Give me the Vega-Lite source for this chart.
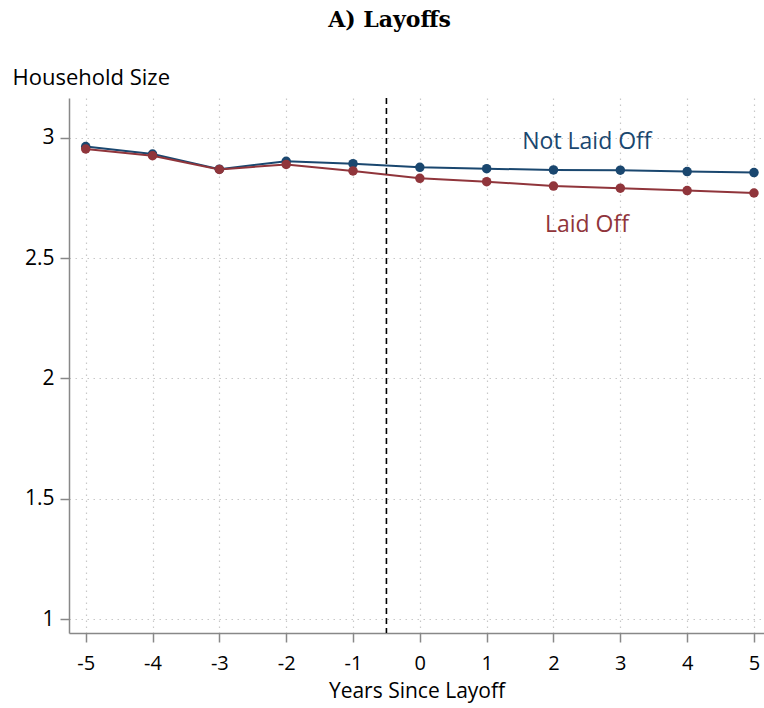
{
  "$schema": "https://vega.github.io/schema/vega-lite/v6.json",
  "width": 695,
  "height": 535,
  "autosize": {"type": "none"},
  "padding": {"left": 69, "top": 98, "right": 0, "bottom": 75},
  "background": "white",
  "config": {"view": {"stroke": null}, "font": "Open Sans"},
  "title": {"text": "A) Layoffs", "font": "DejaVu Serif", "fontSize": 22, "fontWeight": "bold", "anchor": "middle", "frame": "group", "dx": -27, "offset": 34, "color": "black"},
  "datasets": {
    "series": [
      {"year": -5, "value": 2.964, "group": "Not Laid Off"},
      {"year": -4, "value": 2.933, "group": "Not Laid Off"},
      {"year": -3, "value": 2.870, "group": "Not Laid Off"},
      {"year": -2, "value": 2.903, "group": "Not Laid Off"},
      {"year": -1, "value": 2.893, "group": "Not Laid Off"},
      {"year": 0, "value": 2.878, "group": "Not Laid Off"},
      {"year": 1, "value": 2.872, "group": "Not Laid Off"},
      {"year": 2, "value": 2.867, "group": "Not Laid Off"},
      {"year": 3, "value": 2.866, "group": "Not Laid Off"},
      {"year": 4, "value": 2.860, "group": "Not Laid Off"},
      {"year": 5, "value": 2.856, "group": "Not Laid Off"},
      {"year": -5, "value": 2.954, "group": "Laid Off"},
      {"year": -4, "value": 2.926, "group": "Laid Off"},
      {"year": -3, "value": 2.869, "group": "Laid Off"},
      {"year": -2, "value": 2.890, "group": "Laid Off"},
      {"year": -1, "value": 2.863, "group": "Laid Off"},
      {"year": 0, "value": 2.832, "group": "Laid Off"},
      {"year": 1, "value": 2.818, "group": "Laid Off"},
      {"year": 2, "value": 2.800, "group": "Laid Off"},
      {"year": 3, "value": 2.791, "group": "Laid Off"},
      {"year": 4, "value": 2.781, "group": "Laid Off"},
      {"year": 5, "value": 2.771, "group": "Laid Off"}
    ],
    "labels": [
      {"year": 2.5, "value": 2.983, "group": "Not Laid Off"},
      {"year": 2.5, "value": 2.638, "group": "Laid Off"}
    ],
    "event": [{"year": -0.5}]
  },
  "layer": [
    {
      "data": {"name": "series"},
      "mark": {"type": "line", "strokeWidth": 2},
      "encoding": {
        "x": {"field": "year", "type": "quantitative", "scale": {"domain": [-5.25, 5.15], "nice": false, "zero": false},
          "axis": {"values": [-5,-4,-3,-2,-1,0,1,2,3,4,5], "labelExpr": "toString(datum.value)", "title": "Years Since Layoff", "titleFontSize": 21, "titleFontWeight": "normal", "titleColor": "black", "titlePadding": 7,
            "labelFontSize": 20, "labelColor": "black", "labelPadding": 11, "domainColor": "#888", "domainWidth": 1.5, "tickColor": "#888", "tickSize": 9, "tickWidth": 1.5,
            "grid": true, "gridColor": "#c8c8c8", "gridDash": [1.5, 4.5], "gridWidth": 1.2, "labelFlush": false}},
        "y": {"field": "value", "type": "quantitative", "scale": {"domain": [0.942, 3.166], "nice": false, "zero": false},
          "axis": {"values": [1, 1.5, 2, 2.5, 3], "labelExpr": "toString(datum.value)", "title": "Household Size", "titleAngle": 0, "titleX": -57, "titleY": -21, "titleAlign": "left", "titleBaseline": "middle",
            "titleFontSize": 22, "titleFontWeight": "normal", "titleColor": "black",
            "labelFontSize": 21, "labelColor": "black", "labelPadding": 6, "domainColor": "#888", "domainWidth": 1.5, "tickColor": "#888", "tickSize": 9, "tickWidth": 1.5,
            "grid": true, "gridColor": "#c8c8c8", "gridDash": [1.5, 4.5], "gridWidth": 1.2, "labelFlush": false}},
        "color": {"field": "group", "type": "nominal", "scale": {"domain": ["Not Laid Off", "Laid Off"], "range": ["#1a476f", "#90353b"]}, "legend": null}
      }
    },
    {
      "data": {"name": "series"},
      "mark": {"type": "circle", "size": 90, "opacity": 1},
      "encoding": {
        "x": {"field": "year", "type": "quantitative"},
        "y": {"field": "value", "type": "quantitative"},
        "color": {"field": "group", "type": "nominal"}
      }
    },
    {
      "data": {"name": "event"},
      "mark": {"type": "rule", "color": "black", "strokeDash": [6, 4], "strokeWidth": 1.6},
      "encoding": {"x": {"field": "year", "type": "quantitative"}}
    },
    {
      "data": {"name": "labels"},
      "mark": {"type": "text", "fontSize": 23, "align": "center", "baseline": "middle", "font": "Open Sans"},
      "encoding": {
        "x": {"field": "year", "type": "quantitative"},
        "y": {"field": "value", "type": "quantitative"},
        "text": {"field": "group"},
        "color": {"field": "group", "type": "nominal"}
      }
    }
  ]
}
